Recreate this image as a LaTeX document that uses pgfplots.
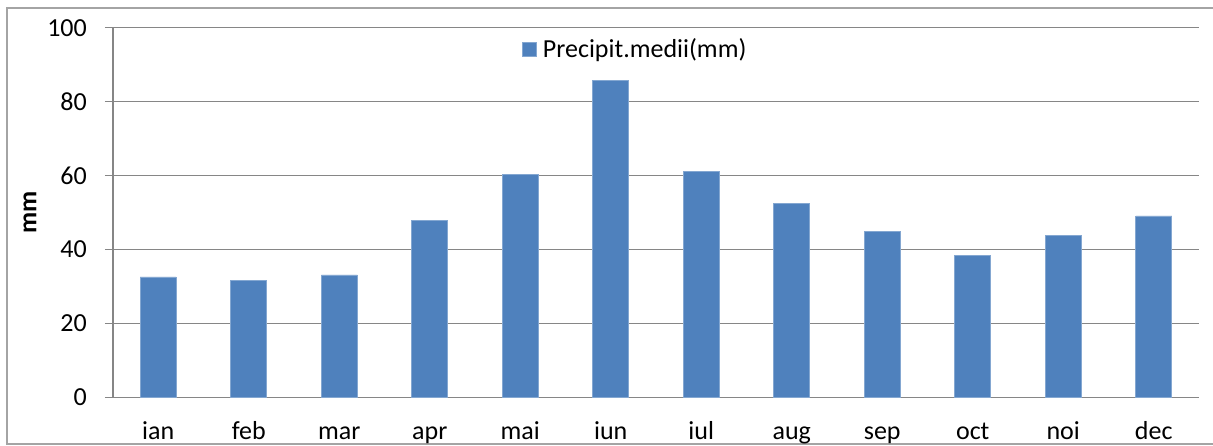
\documentclass[border=0pt]{standalone}
\usepackage{pgfplots}
\pgfplotsset{compat=1.18}
\usepackage{fontspec}
\setmainfont{Carlito}
\definecolor{barblue}{HTML}{4F81BD}
\definecolor{gridgray}{HTML}{868686}
\begin{document}
\fontsize{26}{31}\selectfont
\begin{tikzpicture}[x=1pt,y=1pt]
% page area, measured from the lower left corner of the plot area
\useasboundingbox (-113,-47.7) rectangle (1100,397.3);
% chart frame
\draw[color=gridgray!75, line width=1.2pt] (-106,-46.7) rectangle (1112,389.3);
\begin{axis}[
  scale only axis, width=1086pt, height=369.6pt,
  ybar, bar width=36pt,
  xmin=-0.5, xmax=11.5, ymin=0, ymax=100,
  xtick={0,...,11},
  xticklabels={ian,feb,mar,apr,mai,iun,iul,aug,sep,oct,noi,dec},
  ytick={0,20,40,60,80,100},
  axis x line*=bottom, axis y line*=left,
  axis line style={draw=gridgray, line width=1.3pt, -},
  ymajorgrids, grid style={draw=gridgray, line width=1.3pt},
  tick align=outside, major tick length=8pt,
  ytick style={draw=gridgray, line width=1.3pt},
  xtick style={draw=none},
  /pgf/number format/assume math mode=true,
  yticklabel style={xshift=-9.3pt},
  xticklabel style={anchor=base, yshift=-34pt},
  ylabel={\bfseries mm},
  ylabel style={at={(axis description cs:-0.0764,0.5)}, anchor=center, rotate=0},
  legend style={draw=none, fill=none, inner sep=0pt,
    at={(0.3767,0.941)}, anchor=west,
    nodes={inner sep=6pt}},
  legend image code/.code={\fill[#1] (0pt,-7pt) rectangle (14pt,7pt);},
]
\addplot[fill=barblue, draw=barblue!70!white, line width=0.6pt]
  coordinates {(0,32.6) (1,31.7) (2,33.1) (3,47.8) (4,60.3) (5,85.8)
               (6,61.2) (7,52.4) (8,44.9) (9,38.4) (10,43.9) (11,49.1)};
\addlegendentry{Precipit.medii(mm)}
\end{axis}
\end{tikzpicture}
\end{document}
